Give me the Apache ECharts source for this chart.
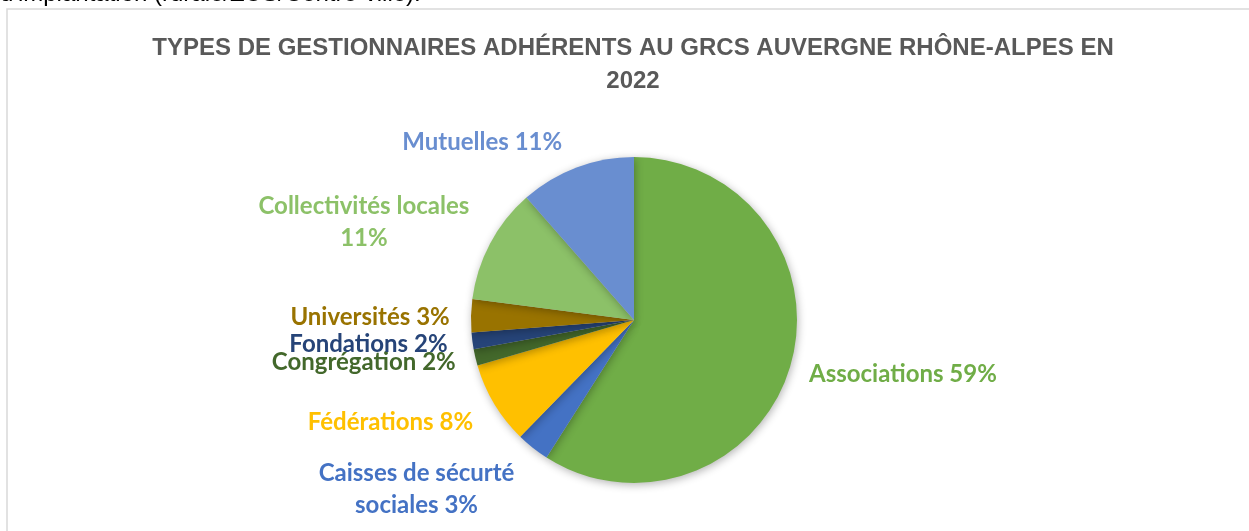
<!DOCTYPE html>
<html>
<head>
<meta charset="utf-8">
<script src="https://cdn.jsdelivr.net/npm/echarts@6/dist/echarts.min.js"></script>
<style>
  html, body { margin: 0; padding: 0; background: #fff; }
  #chart { width: 1249px; height: 531px; }
</style>
</head>
<body>
<div id="chart"></div>
<script>
	// types de gestionnaires (effectifs lus d'apres les pourcentages)
	var categories = ['Associations', 'Caisses de sécurté sociales', 'Fédérations', 'Congrégation',
		'Fondations', 'Universités', 'Collectivités locales', 'Mutuelles'];
	var counts = [36, 2, 5, 1, 1, 2, 7, 7];
	var sliceColors = ['#70AD47', '#4472C4', '#FFC000', '#43682B', '#264478', '#997300', '#8CC168', '#698ED0'];
	// texte des etiquettes avec retours a la ligne
	var labelNames = ['Associations', 'Caisses de sécurté\nsociales', 'Fédérations', 'Congrégation',
		'Fondations', 'Universités', 'Collectivités locales', 'Mutuelles'];
	var labelSep = [' ', ' ', ' ', ' ', ' ', ' ', '\n', ' '];
	// decalage des etiquettes (comme dans le graphique Excel)
	var labelShift = [[63, 5], [-72, 30], [-56, 11], [-62, 1], [-54, 1], [-51, 2], [-78, -14], [-54, -11]];

	var chart = echarts.init(document.getElementById('chart'));
	var pieData = [];
	for (var i = 0; i < categories.length; i++) {
		pieData.push({
			name: categories[i],
			value: counts[i],
			itemStyle: { color: sliceColors[i] },
			label: { color: sliceColors[i] }
		});
	}

	var option = {
		animation: false,
		title: {
			text: 'TYPES DE GESTIONNAIRES ADHÉRENTS AU GRCS AUVERGNE RHÔNE-ALPES EN\n2022',
			left: 628,
			textAlign: 'center',
			top: 27,
			textStyle: {
				fontFamily: 'Liberation Sans',
				fontSize: 24,
				fontWeight: 'bold',
				color: '#595959',
				lineHeight: 33
			}
		},
		graphic: [
			{
				type: 'text', left: 0, top: -18,
				style: { text: "d'implantation (rurale/ZUS/Centre-ville).", fontFamily: 'Liberation Sans', fontSize: 24, fill: '#000' }
			},
			{
				type: 'rect', shape: { x: 7, y: 9, width: 1300, height: 600 },
				style: { fill: 'none', stroke: '#d9d9d9', lineWidth: 1.5 }
			}
		],
		series: [
			{
				type: 'pie',
				center: [634, 320],
				radius: 163,
				startAngle: 90,
				clockwise: true,
				avoidLabelOverlap: false,
				data: pieData,
				itemStyle: {
					shadowBlur: 8,
					shadowColor: 'rgba(0,0,0,0.3)',
					shadowOffsetX: 1,
					shadowOffsetY: 2
				},
				percentPrecision: 2,
				label: {
					show: true,
					position: 'outside',
					formatter: function(p) {
						return labelNames[p.dataIndex] + labelSep[p.dataIndex] + Math.round(p.percent) + '%';
					},
					fontFamily: 'Lato',
					fontWeight: 'bold',
					fontSize: 24,
					lineHeight: 32
				},
				labelLine: { show: false },
				labelLayout: function(params) {
					var s = labelShift[params.dataIndex];
					return { dx: s[0], dy: s[1], align: 'center', verticalAlign: 'middle' };
				}
			}
		]
	};
	chart.setOption(option);
</script>
</body>
</html>
